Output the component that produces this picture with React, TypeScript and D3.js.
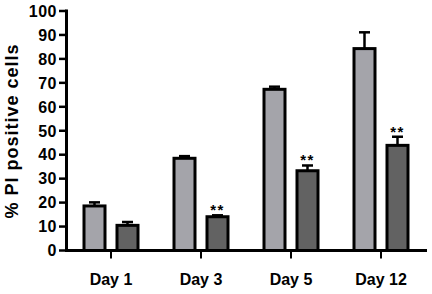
import React from "react";
import * as d3 from "d3";

const categories = ["Day 1", "Day 3", "Day 5", "Day 12"];
const seriesNames = ["control", "treated"];
const controlValues = [18.6, 38.5, 67.3, 84.3];
const controlErrors = [1.5, 0.9, 1.1, 6.8];
const treatedValues = [10.5, 14.1, 33.3, 43.9];
const treatedErrors = [1.4, 0.6, 2.2, 3.6];
const treatedSignificance = ["", "**", "**", "**"];
const yTicks = [0, 10, 20, 30, 40, 50, 60, 70, 80, 90, 100];

const W = 432;
const H = 294;
const FONT = "'Liberation Sans', Arial, sans-serif";

export default function App() {
  const y = d3.scaleLinear().domain([0, 100]).range([250.5, 11]);
  const x = d3.scaleBand<string>().domain(categories).range([66, 426]).padding(0);
  const inner = d3
    .scaleBand<string>()
    .domain(seriesNames)
    .range([-27, 27])
    .paddingInner(12 / 33);
  const colors: Record<string, string> = { control: "#a4a4aa", treated: "#626262" };

  const bars = categories.flatMap((c, i) => [
    { c, s: "control", v: controlValues[i], e: controlErrors[i], sig: "" },
    { c, s: "treated", v: treatedValues[i], e: treatedErrors[i], sig: treatedSignificance[i] },
  ]);

  return (
    <svg
      width={W}
      height={H}
      style={{ position: "absolute", left: 0, top: 0, background: "#fff" }}
      fontFamily={FONT}
    >
      <rect width={W} height={H} fill="#fff" />
      {bars.map((b, i) => {
        const cx = (x(b.c) as number) + x.bandwidth() / 2;
        const bx = cx + (inner(b.s) as number);
        const bw = inner.bandwidth();
        const mid = bx + bw / 2;
        const top = y(b.v);
        const capY = y(b.v + b.e);
        return (
          <g key={i}>
            <line x1={mid} x2={mid} y1={top} y2={capY} stroke="#000" strokeWidth={2.5} />
            <line x1={mid - 5.5} x2={mid + 5.5} y1={capY} y2={capY} stroke="#000" strokeWidth={2.5} />
            <rect
              x={bx}
              y={top}
              width={bw}
              height={y(0) - top}
              fill={colors[b.s]}
              stroke="#000"
              strokeWidth={3}
            />
            {b.sig && (
              <text
                x={mid}
                y={capY}
                textAnchor="middle"
                fontSize={15}
                fontWeight="bold"
                letterSpacing={1.5}
              >
                {b.sig}
              </text>
            )}
          </g>
        );
      })}
      {/* y axis */}
      <line x1={66.5} x2={66.5} y1={y(100) - 1.5} y2={y(0) + 1.5} stroke="#000" strokeWidth={3} />
      {yTicks.map((t) => (
        <g key={t}>
          <line x1={59} x2={66.5} y1={y(t)} y2={y(t)} stroke="#000" strokeWidth={2.5} />
          <text
            x={57}
            y={y(t)}
            dy="0.36em"
            textAnchor="end"
            fontSize={16}
            fontWeight="bold"
            letterSpacing={0.5}
          >
            {t}
          </text>
        </g>
      ))}
      {/* x axis */}
      <line x1={65} x2={427} y1={y(0)} y2={y(0)} stroke="#000" strokeWidth={3} />
      {categories.map((c) => {
        const cx = (x(c) as number) + x.bandwidth() / 2;
        return (
          <g key={c}>
            <line x1={cx} x2={cx} y1={y(0)} y2={y(0) + 8} stroke="#000" strokeWidth={2} />
            <text x={cx} y={285} textAnchor="middle" fontSize={16} fontWeight="bold">
              {c}
            </text>
          </g>
        );
      })}
      <text
        transform={`translate(17.5,131) rotate(-90)`}
        textAnchor="middle"
        fontSize={18}
        fontWeight="bold"
        letterSpacing={1}
      >
        % PI positive cells
      </text>
    </svg>
  );
}
